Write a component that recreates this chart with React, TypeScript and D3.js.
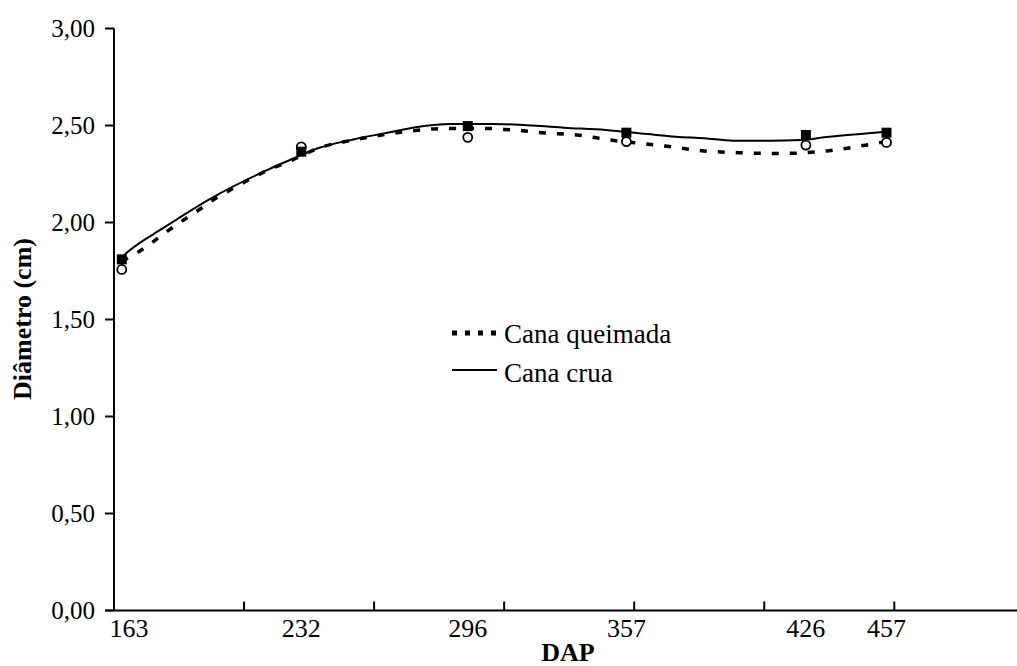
import React from "react"
import * as d3 from "d3"

// DAP (dias apos plantio) e medias observadas
const dap = [163, 232, 296, 357, 426, 457]
const canaCrua = [1.81, 2.365, 2.497, 2.463, 2.451, 2.463]
const canaQueimada = [1.758, 2.39, 2.439, 2.417, 2.399, 2.413]

// linhas de tendencia
const trendCruaDias = [163, 165, 179, 198, 218, 229, 239, 252, 265, 280, 289, 305, 321, 333, 349, 365, 376, 387, 398, 412, 424, 433, 442, 450, 457]
const trendCrua = [1.82, 1.845, 1.972, 2.13, 2.265, 2.33, 2.385, 2.428, 2.463, 2.499, 2.508, 2.508, 2.5, 2.489, 2.477, 2.456, 2.442, 2.434, 2.422, 2.422, 2.425, 2.439, 2.451, 2.46, 2.468]
const trendQueimadaDias = [163, 169, 175, 180, 186, 193, 198, 205, 218, 229, 239, 252, 265, 275, 289, 303, 310, 317, 323, 338, 351, 372, 386, 400, 413, 424, 428, 435, 442, 448, 455, 457]
const trendQueimada = [1.8, 1.845, 1.9, 1.95, 2.006, 2.068, 2.115, 2.17, 2.262, 2.325, 2.385, 2.425, 2.455, 2.473, 2.485, 2.485, 2.48, 2.473, 2.464, 2.451, 2.425, 2.394, 2.37, 2.36, 2.356, 2.358, 2.362, 2.37, 2.383, 2.397, 2.413, 2.42]

const yTicks = [0, 0.5, 1, 1.5, 2, 2.5, 3]
const serif = "'Liberation Serif', 'DejaVu Serif', serif"

export default function App() {
    const W = 1017
    const H = 666
    const x0 = 114
    const x = d3.scaleLinear().domain([160, 510]).range([x0, x0 + 350 * 2.601])
    const y = d3.scaleLinear().domain([0, 3]).range([610.5, 28.5])
    const xTicks = d3.range(210, 500, 50)

    const line = d3.line<[number, number]>()
        .x(d => x(d[0]))
        .y(d => y(d[1]))
        .curve(d3.curveMonotoneX)

    const crua = line(trendCruaDias.map((d, i) => [d, trendCrua[i]]))
    const queimada = line(trendQueimadaDias.map((d, i) => [d, trendQueimada[i]]))
    const fmt = (v: number) => v.toFixed(2).replace(".", ",")
    const ts = { fontFamily: serif }

    return (
        <svg width={W} height={H} style={{ position: "absolute", left: 0, top: 0, background: "#fff", fontFamily: serif }}>
            {/* eixos */}
            <line x1={x0} x2={x0} y1={y(3)} y2={y(0)} stroke="#000" strokeWidth={2} />
            <line x1={x0 - 9} x2={W} y1={y(0)} y2={y(0)} stroke="#000" strokeWidth={2} />
            {yTicks.map(t => (
                <g key={t}>
                    <line x1={x0 - 9} x2={x0} y1={y(t)} y2={y(t)} stroke="#000" strokeWidth={2} />
                    <text x={95} y={y(t) + 8} fontSize={25} textAnchor="end" style={ts}>{fmt(t)}</text>
                </g>
            ))}
            {xTicks.map(t => (
                <line key={t} x1={x(t)} x2={x(t)} y1={y(0)} y2={y(0) - 9} stroke="#000" strokeWidth={2} />
            ))}
            {dap.map((d, i) => (
                <text key={d} x={i === 0 ? 129 : x(d)} y={637} fontSize={26} textAnchor="middle" style={ts}>{d}</text>
            ))}
            <text x={568} y={661} fontSize={26} fontWeight="bold" textAnchor="middle" style={ts}>DAP</text>
            <text transform="translate(31,319) rotate(-90)" fontSize={26} fontWeight="bold" textAnchor="middle" style={ts}>Diâmetro (cm)</text>

            {/* tendencias */}
            <path d={queimada || ""} fill="none" stroke="#000" strokeWidth={3.5} strokeDasharray="7 11" />
            <path d={crua || ""} fill="none" stroke="#000" strokeWidth={2} />

            {/* pontos */}
            {dap.map((d, i) => (
                <circle key={"q" + d} cx={x(d)} cy={y(canaQueimada[i])} r={4.5} fill="#fff" stroke="#000" strokeWidth={1.8} />
            ))}
            {dap.map((d, i) => (
                <rect key={"c" + d} x={x(d) - 5} y={y(canaCrua[i]) - 5} width={10} height={10} fill="#000" />
            ))}

            {/* legenda */}
            <line x1={452} x2={497} y1={333} y2={333} stroke="#000" strokeWidth={5} strokeDasharray="5 8" />
            <text x={504} y={343} fontSize={27} style={ts}>Cana queimada</text>
            <line x1={452} x2={497} y1={370} y2={370} stroke="#000" strokeWidth={2} />
            <text x={504} y={382} fontSize={27} style={ts}>Cana crua</text>
        </svg>
    )
}
